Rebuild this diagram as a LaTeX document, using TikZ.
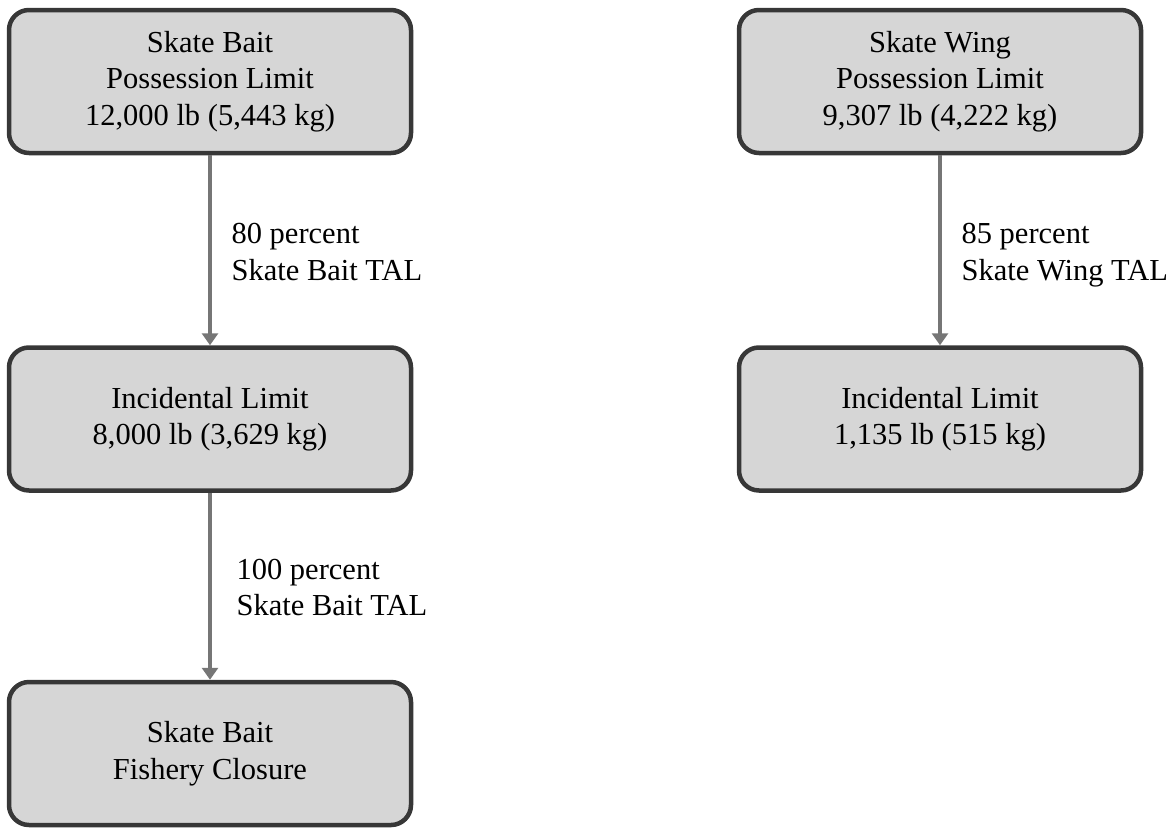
\documentclass[tikz,border=0pt]{standalone}
\usepackage{fontspec}
\setmainfont{Liberation Serif}
\usetikzlibrary{arrows.meta,positioning}
\definecolor{boxfill}{RGB}{214,214,214}
\definecolor{boxedge}{RGB}{55,55,55}
\definecolor{flowgray}{RGB}{118,118,118}
\tikzstyle{limit} = [rectangle, rounded corners=20pt,
                     minimum width=402pt, minimum height=143pt,
                     align=center,
                     fill=boxfill,
                     draw=boxedge,
                     line width=4.5pt,
                     font=\fontsize{30.5}{36.5}\selectfont]
\tikzstyle{flow} = [draw=flowgray, line width=3.2pt,
                    -{Triangle[width=16pt,length=12pt]}]
\tikzstyle{share} = [align=left, inner sep=0pt,
                     font=\fontsize{30.5}{36.5}\selectfont]
\begin{document}
\begin{tikzpicture}[x=1pt, y=1pt, node distance=337.5pt]
  \useasboundingbox (0,0) rectangle (1174,-827);

  \node (bait-poss) [limit] at (210,-81.5) {
    Skate Bait\\
    Possession Limit\\
    12,000 lb (5,443 kg)
  };

  \node (bait-inc) [limit, below of=bait-poss] {
    Incidental Limit\\
    8,000 lb (3,629 kg)
  };

  \node (bait-close) [limit, below of=bait-inc, yshift=3pt] {
    Skate Bait\\
    Fishery Closure
  };

  \node (wing-poss) [limit, right of=bait-poss, xshift=392.5pt] {
    Skate Wing\\
    Possession Limit\\
    9,307 lb (4,222 kg)
  };

  \node (wing-inc) [limit, below of=wing-poss] {
    Incidental Limit\\
    1,135 lb (515 kg)
  };

  \draw[flow] (bait-poss) to node[share, right=20pt, yshift=-2pt] {80 percent\\Skate Bait TAL} (bait-inc);
  \draw[flow] (bait-inc) to node[share, right=25pt, yshift=-1pt] {100 percent\\Skate Bait TAL} (bait-close);
  \draw[flow] (wing-poss) to node[share, right=20pt, yshift=-5pt] {85 percent\\Skate Wing TAL} (wing-inc);

\end{tikzpicture}
\end{document}
